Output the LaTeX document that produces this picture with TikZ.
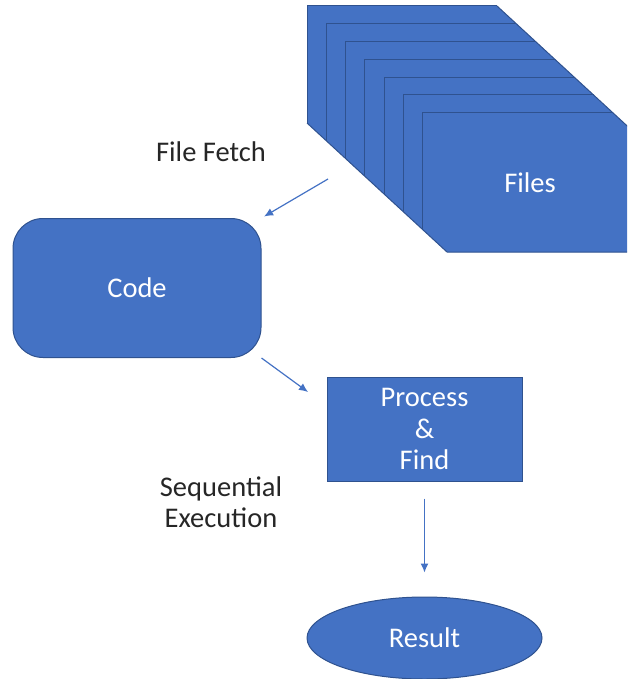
\documentclass[tikz,border=0pt]{standalone}
\usepackage{fontspec}
\setmainfont{Carlito}
\usetikzlibrary{arrows.meta,shapes.geometric}
\definecolor{fillblue}{HTML}{4472C4}
\definecolor{edgeblue}{HTML}{2F528F}
\definecolor{txt}{HTML}{262626}
\begin{document}
\begin{tikzpicture}[x=1pt,y=-1pt,
  shapebox/.style={draw=edgeblue, fill=fillblue, line width=1pt, text=white,
    font=\fontsize{28.5}{31.5}\selectfont, align=center, inner sep=0pt},
  lbl/.style={text=txt, font=\fontsize{28.5}{31.5}\selectfont, align=center, inner sep=0pt},
  arr/.style={draw=fillblue, line width=1.2pt, -{Latex[length=9pt,width=8pt]}},
  layeredge/.style={draw=edgeblue, line width=1pt}]
\useasboundingbox (0,0) rectangle (627,679);
\begin{scope}
  \clip (0,0) rectangle (627,679);
  % stack of files
  \fill[fillblue] (307,6) -- (497,6) -- (650,147) -- (650,252) -- (447,252) -- (307,123) -- cycle;
  \draw[layeredge] (497,6) -- (650,147);
  \draw[layeredge] (650,252) -- (447,252) -- (307,123);
  \foreach \i in {0,...,6} {
    \draw[layeredge] ({497+19.3*\i},{6+17.8*\i}) -- ({307+19.3*\i},{6+17.8*\i}) -- ({307+19.3*\i},{123+17.8*\i});
  }
\end{scope}
\node[text=white, font=\fontsize{28.5}{31.5}\selectfont, inner sep=0pt] (files) at (530,183) {Files};

\node[shapebox, rounded corners=30pt, minimum width=248pt, minimum height=139pt] (code) at (137,288) {Code};
\node[shapebox, minimum width=195pt, minimum height=104pt] (proc) at (424.5,429) {Process\\\&\\Find};
\node[shapebox, ellipse, minimum width=235pt, minimum height=82pt] (res) at (424.5,638) {Result};

\node[lbl] (fetch) at (211,152) {File Fetch};
\node[lbl] (seq) at (221,502) {Sequential\\Execution};

\coordinate (fetchstart) at (328,179);
\coordinate (a2end) at (308,392);
\draw[arr, shorten >=3pt] (fetchstart) -- (code.north east);
\draw[arr] (code.south east) -- (a2end);
\draw[arr, shorten <=17pt, shorten >=24pt] (proc.south) -- (res.north);
\end{tikzpicture}
\end{document}
